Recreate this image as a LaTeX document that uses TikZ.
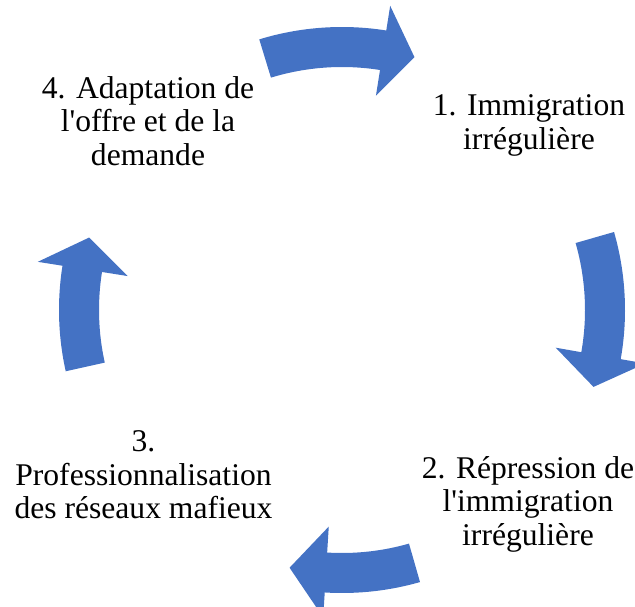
\documentclass[tikz,border=0pt]{standalone}
\usepackage{fontspec}
\setmainfont{Liberation Serif}[Ligatures={TeXOff,NoCommon}]
\definecolor{cycleblue}{HTML}{4472C4}
% block arrow on the cycle: tail angle, head base angle, tip angle
\newcommand{\cyclearrow}[3]{%
  \fill[cycleblue] (#1:283) arc[start angle=#1, end angle=#2, radius=283]
    -- (#2:308) -- (#3:263) -- (#2:217) -- (#2:243)
    arc[start angle=#2, end angle=#1, radius=243] -- cycle;}
\begin{document}
\begin{tikzpicture}[x=1pt,y=-1pt]
 \useasboundingbox (0,0) rectangle (635,606);
 \tikzset{lbl/.style={align=center,font=\fontsize{31.6}{33.5}\selectfont}}

 \node (imm) at (529,125.4) [lbl] {1. Immigration\\irrégulière};
 \node (rep) at (528,504) [lbl] {2. Répression de\\l'immigration\\irrégulière};
 \node (pro) at (143.5,474.8) [lbl] {3.\\Professionnalisation\\des réseaux mafieux};
 \node (ada) at (148,120.7) [lbl] {4. Adaptation de\\l'offre et de la\\demande};

 \begin{scope}[shift={(342,310)}]
  \cyclearrow{-107}{-81}{-74}
  \cyclearrow{-16}{10}{17}
  \cyclearrow{74}{93.5}{101.5}
  \cyclearrow{167.5}{189}{196}
 \end{scope}
\end{tikzpicture}
\end{document}
